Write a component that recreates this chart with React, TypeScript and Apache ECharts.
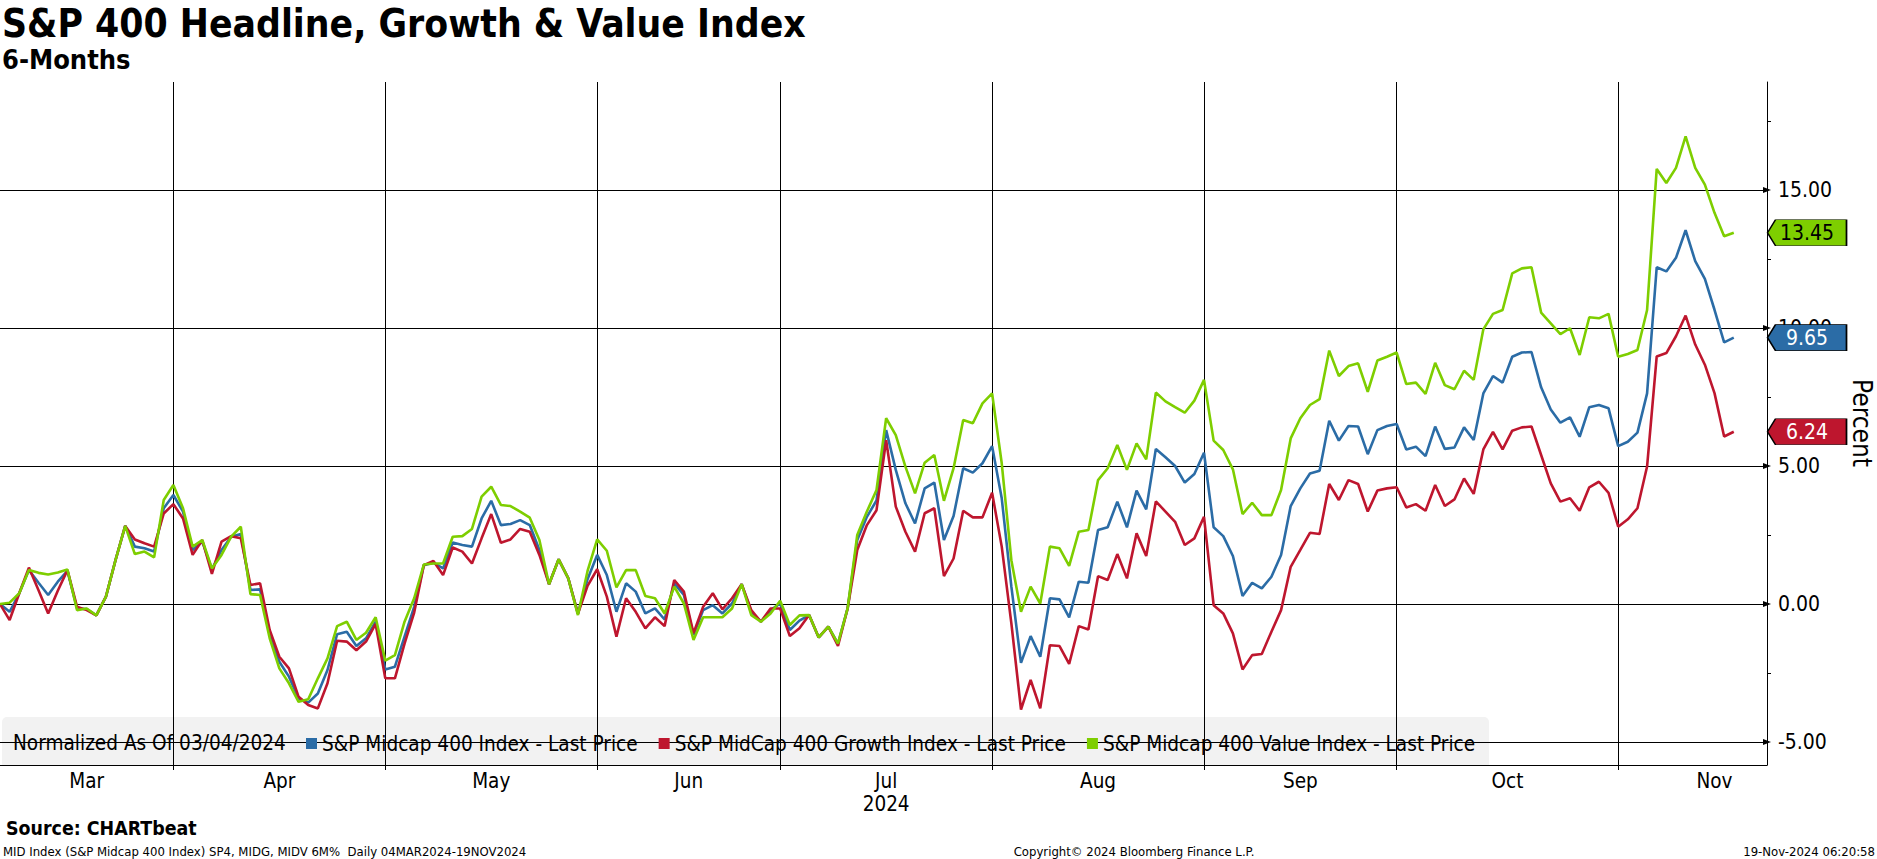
import React, { useEffect, useRef } from "react";
import * as echarts from "echarts";

const FONT = '"DejaVu Sans Condensed", "DejaVu Sans", sans-serif';

const TITLE = "S&P 400 Headline, Growth & Value Index";
const SUBTITLE = "6-Months";
const NORMALIZED_NOTE = "Normalized As Of 03/04/2024";
const Y_AXIS_NAME = "Percent";
const SOURCE = "Source: CHARTbeat";
const FOOTNOTE = "MID Index (S&P Midcap 400 Index) SP4, MIDG, MIDV 6M%  Daily 04MAR2024-19NOV2024";
const COPYRIGHT = "Copyright\u00A9 2024 Bloomberg Finance L.P.";
const TIMESTAMP = "19-Nov-2024 06:20:58";

const SERIES_NAMES = [
  "S&P Midcap 400 Index - Last Price",
  "S&P MidCap 400 Growth Index - Last Price",
  "S&P Midcap 400 Value Index - Last Price",
];
const SERIES_COLORS = ["#2b6ca6", "#be162e", "#7ece00"];
const TAG_TEXT_COLORS = ["#ffffff", "#ffffff", "#000000"];

// trading calendar (one point per trading day)
const CALENDAR_START = "2024-03-04";
const CALENDAR_END = "2024-11-29";
const MARKET_HOLIDAYS = ["2024-03-29", "2024-05-27", "2024-06-19", "2024-07-04", "2024-09-02", "2024-11-28"];
const MONTH_NAMES = ["Jan", "Feb", "Mar", "Apr", "May", "Jun", "Jul", "Aug", "Sep", "Oct", "Nov", "Dec"];
const YEAR_MONTH = "Jul";
const YEAR_TEXT = "2024";

// % change since 03/04/2024, one value per trading day (04MAR2024 - 18NOV2024)
const midcap = [
  0.00, -0.28, 0.39, 1.23, 0.77, 0.33, 0.81, 1.20, -0.16, -0.18,
  -0.41, 0.27, 1.60, 2.83, 2.08, 2.02, 1.90, 3.47, 3.95, 3.35,
  1.96, 2.26, 1.26, 1.96, 2.44, 2.54, 0.51, 0.53, -1.06, -2.09,
  -2.63, -3.42, -3.57, -3.24, -2.39, -1.09, -1.00, -1.52, -1.24, -0.64,
  -2.37, -2.27, -1.18, -0.10, 1.41, 1.50, 1.29, 2.23, 2.14, 2.08,
  3.10, 3.74, 2.86, 2.90, 3.04, 2.86, 1.96, 0.72, 1.62, 0.93,
  -0.35, 0.90, 1.78, 1.05, -0.28, 0.75, 0.45, -0.34, -0.16, -0.56,
  0.75, 0.33, -1.12, -0.22, -0.04, -0.34, 0.02, 0.72, -0.28, -0.64,
  -0.22, 0.02, -0.94, -0.60, -0.40, -1.21, -0.82, -1.43, -0.16, 2.32,
  3.16, 3.75, 6.30, 4.86, 3.65, 2.92, 4.19, 4.40, 2.32, 3.19,
  4.92, 4.76, 5.10, 5.72, 3.83, 0.63, -2.13, -1.16, -1.91, 0.21,
  0.17, -0.48, 0.81, 0.77, 2.68, 2.78, 3.71, 2.78, 4.11, 3.43,
  5.62, 5.32, 5.00, 4.40, 4.71, 5.48, 2.78, 2.46, 1.74, 0.29,
  0.77, 0.57, 0.99, 1.78, 3.55, 4.19, 4.73, 4.83, 6.64, 5.92,
  6.45, 6.43, 5.43, 6.30, 6.45, 6.52, 5.60, 5.70, 5.36, 6.43,
  5.62, 5.67, 6.40, 5.94, 7.63, 8.26, 8.02, 8.96, 9.11, 9.13,
  7.85, 7.05, 6.57, 6.76, 6.06, 7.13, 7.21, 7.09, 5.72, 5.88,
  6.21, 7.63, 12.20, 12.05, 12.54, 13.54, 12.42, 11.78, 10.66, 9.48,
  9.65,
];
const growth = [
  0.00, -0.58, 0.39, 1.32, 0.50, -0.34, 0.48, 1.23, -0.10, -0.22,
  -0.41, 0.27, 1.60, 2.83, 2.34, 2.20, 2.08, 3.28, 3.62, 3.10,
  1.78, 2.32, 1.09, 2.26, 2.46, 2.38, 0.69, 0.75, -0.94, -1.91,
  -2.33, -3.36, -3.66, -3.78, -2.87, -1.33, -1.36, -1.67, -1.36, -0.72,
  -2.69, -2.69, -1.43, -0.31, 1.41, 1.56, 1.05, 2.05, 1.90, 1.47,
  2.38, 3.26, 2.22, 2.34, 2.72, 2.62, 1.78, 0.72, 1.62, 0.93,
  -0.35, 0.66, 1.26, 0.27, -1.18, 0.21, -0.28, -0.88, -0.48, -0.80,
  0.87, 0.45, -1.06, -0.10, 0.39, -0.19, 0.21, 0.72, -0.22, -0.64,
  -0.16, -0.16, -1.16, -0.88, -0.40, -1.21, -0.82, -1.52, -0.16, 1.96,
  2.86, 3.40, 5.94, 3.53, 2.62, 1.90, 3.29, 3.47, 1.01, 1.65,
  3.38, 3.14, 3.14, 4.03, 2.08, -0.70, -3.82, -2.75, -3.78, -1.49,
  -1.52, -2.17, -0.80, -0.92, 1.01, 0.87, 1.81, 0.93, 2.56, 1.74,
  3.72, 3.35, 2.98, 2.14, 2.38, 3.16, -0.04, -0.34, -1.06, -2.37,
  -1.85, -1.81, -1.00, -0.22, 1.35, 1.96, 2.58, 2.54, 4.35, 3.77,
  4.49, 4.35, 3.35, 4.11, 4.19, 4.23, 3.50, 3.62, 3.38, 4.31,
  3.55, 3.79, 4.55, 3.99, 5.60, 6.24, 5.60, 6.28, 6.40, 6.43,
  5.40, 4.37, 3.71, 3.83, 3.38, 4.23, 4.43, 4.03, 2.80, 3.07,
  3.47, 4.98, 8.97, 9.09, 9.70, 10.45, 9.40, 8.67, 7.64, 6.07,
  6.24,
];
const valueIdx = [
  0.00, 0.05, 0.39, 1.23, 1.13, 1.07, 1.14, 1.25, -0.22, -0.16,
  -0.41, 0.27, 1.60, 2.83, 1.81, 1.90, 1.69, 3.77, 4.31, 3.47,
  2.08, 2.32, 1.29, 1.78, 2.44, 2.80, 0.36, 0.33, -1.24, -2.33,
  -2.87, -3.54, -3.45, -2.69, -1.97, -0.80, -0.64, -1.30, -1.04, -0.48,
  -2.05, -1.85, -0.64, 0.21, 1.43, 1.47, 1.47, 2.44, 2.46, 2.72,
  3.89, 4.25, 3.59, 3.55, 3.35, 3.13, 2.32, 0.72, 1.62, 0.93,
  -0.40, 1.20, 2.34, 1.93, 0.60, 1.23, 1.23, 0.29, 0.21, -0.34,
  0.63, 0.02, -1.30, -0.48, -0.48, -0.48, -0.16, 0.72, -0.40, -0.64,
  -0.34, 0.12, -0.76, -0.41, -0.40, -1.21, -0.82, -1.43, -0.16, 2.50,
  3.35, 4.13, 6.73, 6.12, 4.98, 4.01, 5.12, 5.40, 3.74, 4.92,
  6.67, 6.55, 7.27, 7.63, 5.10, 1.59, -0.28, 0.63, 0.02, 2.08,
  2.02, 1.38, 2.62, 2.68, 4.49, 4.92, 5.76, 4.86, 5.82, 5.24,
  7.66, 7.34, 7.13, 6.93, 7.37, 8.12, 5.92, 5.58, 4.88, 3.26,
  3.67, 3.22, 3.22, 4.13, 6.00, 6.73, 7.21, 7.42, 9.18, 8.26,
  8.62, 8.72, 7.69, 8.82, 8.96, 9.11, 7.97, 8.02, 7.61, 8.74,
  7.93, 7.78, 8.45, 8.12, 9.95, 10.51, 10.65, 11.98, 12.16, 12.20,
  10.56, 10.17, 9.78, 9.99, 9.02, 10.39, 10.35, 10.51, 8.96, 9.06,
  9.20, 10.65, 15.76, 15.25, 15.80, 16.94, 15.80, 15.19, 14.17, 13.32,
  13.45,
];

const Y_MIN = -5.83;
const Y_MAX = 18.91;
const Y_LABEL_VALUES = [-5, 0, 5, 10, 15];
const Y_MINOR_TICKS = [-2.5, 2.5, 7.5, 12.5, 17.5];
const X_RIGHT_PADDING_DAYS = 3.45;

function tradingDays(start: string, end: string, holidays: string[]) {
  const out: string[] = [];
  const d = new Date(start + "T00:00:00Z");
  const e = new Date(end + "T00:00:00Z");
  while (d <= e) {
    const dow = d.getUTCDay();
    const iso = d.toISOString().slice(0, 10);
    if (dow !== 0 && dow !== 6 && holidays.indexOf(iso) < 0) out.push(iso);
    d.setUTCDate(d.getUTCDate() + 1);
  }
  return out;
}

export default function App() {
  const ref = useRef<HTMLDivElement>(null);

  useEffect(() => {
    if (!ref.current) return;
    const chart = echarts.init(ref.current, undefined, { renderer: "svg", width: 1877, height: 859 });

    const days = tradingDays(CALENDAR_START, CALENDAR_END, MARKET_HOLIDAYS);
    const months: { key: string; name: string; first: number; last: number }[] = [];
    days.forEach((d, i) => {
      const key = d.slice(0, 7);
      const m = months[months.length - 1];
      if (!m || m.key !== key) months.push({ key, name: MONTH_NAMES[+d.slice(5, 7) - 1], first: i, last: i });
      else m.last = i;
    });
    const lastIdx = midcap.length - 1;
    const X_MAX = lastIdx + X_RIGHT_PADDING_DAYS;
    const monthEnds = months.filter((m) => m.last < lastIdx).map((m) => m.last);
    const labelMap = new Map<number, string>();
    const labelPos: number[] = [];
    months.forEach((m, j) => {
      const pos = ((j === 0 ? 0 : months[j - 1].last) + m.last) / 2;
      labelPos.push(pos);
      labelMap.set(Math.round(pos * 2) / 2, m.name === YEAR_MONTH ? m.name + "\n" + YEAR_TEXT : m.name);
    });

    const seriesValues = [midcap, growth, valueIdx];

    const hGrid = {
      silent: true,
      z: 1,
      animation: false,
      symbol: ["none", "triangle"],
      symbolSize: [6, 8],
      label: { show: false },
      emphasis: { disabled: true },
      lineStyle: { color: "#000", width: 1, type: "solid" },
      data: Y_LABEL_VALUES.map((v) => ({ yAxis: v })),
    };
    const vGrid = {
      silent: true,
      z: 1,
      animation: false,
      symbol: ["none", "none"],
      label: { show: false },
      emphasis: { disabled: true },
      lineStyle: { color: "#000", width: 1, type: "solid" },
      data: monthEnds.map((v) => ({ xAxis: v })),
    };

    const series = seriesValues.map((vals, s) => {
      const last = vals[vals.length - 1];
      return {
        type: "line",
        name: SERIES_NAMES[s],
        data: vals.map((v, i) => [i, v]),
        showSymbol: false,
        symbol: "none",
        clip: false,
        color: SERIES_COLORS[s],
        lineStyle: { color: SERIES_COLORS[s], width: 2.6 },
        emphasis: { disabled: true },
        markLine: s === 0 ? hGrid : s === 1 ? vGrid : undefined,
        markPoint: {
          silent: true,
          animation: false,
          symbol: "path://M0,13L8,0L79,0L79,26L8,26Z",
          symbolSize: [79, 26],
          symbolKeepAspect: false,
          symbolOffset: [40, 0],
          itemStyle: { color: SERIES_COLORS[s], borderColor: "#000", borderWidth: 1 },
          label: {
            show: true,
            position: "inside",
            formatter: () => last.toFixed(2),
            color: TAG_TEXT_COLORS[s],
            fontFamily: FONT,
            fontSize: 21,
          },
          emphasis: { disabled: true },
          data: [{ coord: [X_MAX, last], value: last }],
        },
      };
    });

    const text = (t: string, x: number, y: number, size: number, opts: any = {}) => ({
      type: "text",
      x,
      y,
      silent: true,
      rotation: opts.rotation || 0,
      style: {
        text: t,
        fontFamily: FONT,
        fontSize: size,
        fontWeight: opts.bold ? "bold" : "normal",
        fill: "#000",
        align: opts.align || "left",
        verticalAlign: "middle",
      },
    });

    const option = {
      animation: false,
      backgroundColor: "#ffffff",
      grid: { left: 0, right: 110, top: 82, bottom: 94, containLabel: false, outerBoundsMode: "none" },
      legend: {
        left: 306,
        top: 733,
        padding: 0,
        icon: "rect",
        itemWidth: 11,
        itemHeight: 11,
        itemGap: 21,
        selectedMode: false,
        textStyle: { fontFamily: FONT, fontSize: 20.6, color: "#000" },
        data: SERIES_NAMES,
      },
      xAxis: {
        type: "value",
        min: 0,
        max: X_MAX,
        position: "bottom",
        axisLine: { show: true, onZero: false, lineStyle: { color: "#000", width: 1 } },
        axisTick: { show: true, customValues: monthEnds, length: 5, lineStyle: { color: "#000", width: 1 } },
        axisLabel: {
          customValues: labelPos,
          formatter: (v: number) => labelMap.get(Math.round(v * 2) / 2) || "",
          fontFamily: FONT,
          fontSize: 20.5,
          lineHeight: 23,
          color: "#000",
          margin: 4,
          hideOverlap: false,
        },
        splitLine: { show: false },
      },
      yAxis: {
        type: "value",
        position: "right",
        min: Y_MIN,
        max: Y_MAX,
        axisLine: { show: true, onZero: false, lineStyle: { color: "#000", width: 1 } },
        axisTick: { show: true, customValues: Y_MINOR_TICKS, length: 4, lineStyle: { color: "#000", width: 1 } },
        axisLabel: {
          customValues: Y_LABEL_VALUES,
          formatter: (v: number) => v.toFixed(2),
          fontFamily: FONT,
          fontSize: 21,
          color: "#000",
          margin: 11,
        },
        splitLine: { show: false },
      },
      graphic: {
        elements: [
          {
            type: "rect",
            silent: true,
            shape: { x: 2, y: 717, width: 1487, height: 48, r: [5, 5, 0, 0] },
            style: { fill: "#f2f2f2" },
          },
          text(TITLE, 2, 23, 38.7, { bold: true }),
          text(SUBTITLE, 2, 59, 27, { bold: true }),
          text(NORMALIZED_NOTE, 13, 743, 20.6),
          text(Y_AXIS_NAME, 1862, 423, 26, { align: "center", rotation: -Math.PI / 2 }),
          text(SOURCE, 6, 828, 19.4, { bold: true }),
          text(FOOTNOTE, 3, 851, 13),
          text(COPYRIGHT, 1134, 851, 13, { align: "center" }),
          text(TIMESTAMP, 1875, 851, 13, { align: "right" }),
        ],
      },
      series,
    };

    chart.setOption(option as any);
    return () => chart.dispose();
  }, []);

  return (
    <div
      ref={ref}
      style={{ position: "fixed", left: 0, top: 0, width: 1877, height: 859, background: "#fff" }}
    />
  );
}
